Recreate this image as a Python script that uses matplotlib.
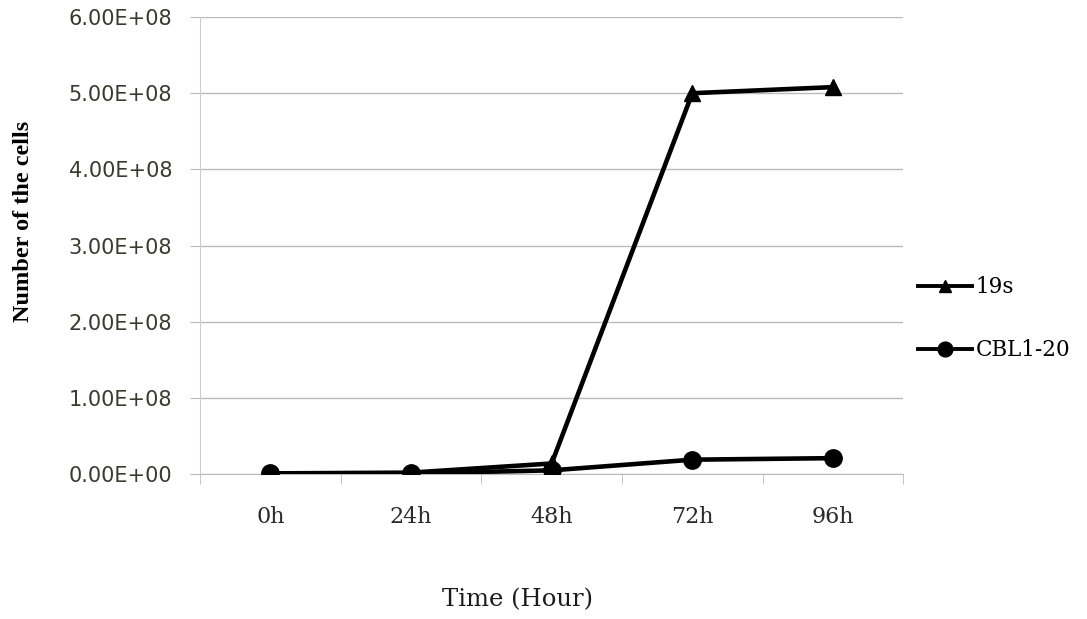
import matplotlib.pyplot as plt
from matplotlib.ticker import FixedLocator, NullFormatter

times = ["0h", "24h", "48h", "72h", "96h"]
cells_19s = [1.0e6, 2.0e6, 1.4e7, 5.00e8, 5.08e8]
cells_cbl = [1.0e6, 1.0e6, 5.0e6, 1.9e7, 2.1e7]
y_ticks = [0, 1e8, 2e8, 3e8, 4e8, 5e8, 6e8]

fig = plt.figure(figsize=(10.87, 6.19), dpi=100)
ax = fig.add_axes([0.184, 0.234, 0.647, 0.7385])

x = list(range(len(times)))
ax.plot(x, cells_19s, color="black", lw=3.3, marker="^", ms=11, label="19s", zorder=3)
ax.plot(x, cells_cbl, color="black", lw=3.3, marker="o", ms=12.5, label="CBL1-20", zorder=3)

ax.set_xlim(-0.5, len(times) - 0.5)
ax.set_ylim(0, 6e8)
ax.set_yticks(y_ticks)
ax.set_yticklabels([f"{v:.2E}" for v in y_ticks], fontsize=15, color="#3a3a30",
                   family="DejaVu Sans")
ax.yaxis.grid(True, color="#bbbbbb", lw=1)
ax.set_axisbelow(True)

ax.set_xticks(x)
ax.set_xticklabels(times, fontsize=16, color="#2a2a2a", family="DejaVu Serif")
ax.xaxis.set_minor_locator(FixedLocator([i - 0.5 for i in range(len(times) + 1)]))
ax.xaxis.set_minor_formatter(NullFormatter())
ax.tick_params(axis="x", which="major", length=0, pad=23)
ax.tick_params(axis="x", which="minor", length=7, color="#bbbbbb")
ax.tick_params(axis="y", length=7, color="#bbbbbb", pad=13)

for side in ["top", "right"]:
    ax.spines[side].set_visible(False)
ax.spines["left"].set_color("#cccccc")
ax.spines["bottom"].set_color("#bbbbbb")

fig.text(0.022, 0.643, "Number of the cells", rotation=90, ha="center", va="center",
         fontsize=17.5, fontweight="bold", family="Liberation Serif")
fig.text(0.4765, 0.031, "Time (Hour)", ha="center", va="center",
         fontsize=17.5, color="#1a1a1a", family="DejaVu Serif")

leg = fig.legend(loc="center left", bbox_to_anchor=(0.827, 0.485), frameon=False,
                 prop={"family": "DejaVu Serif", "size": 15.5}, handlelength=2.5,
                 handletextpad=0.15, labelspacing=1.9, markerscale=0.85)
for line in leg.get_lines():
    line.set_linewidth(2.8)

fig.savefig("out.png", dpi=100)
